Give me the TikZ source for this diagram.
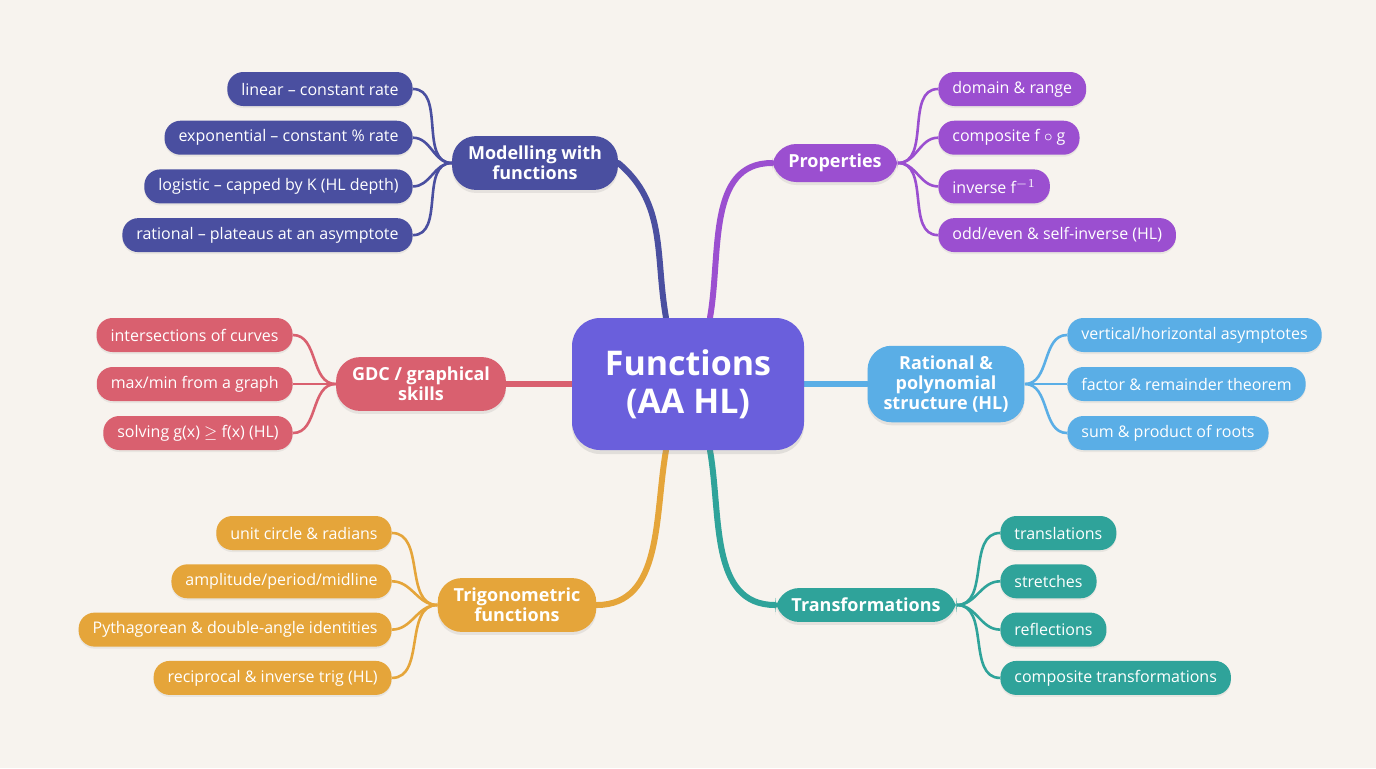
\documentclass[tikz,border=0pt]{standalone}
\usepackage{fontspec}
\setmainfont{Open Sans}
\usetikzlibrary{positioning, shadows}

\definecolor{bgcol}{HTML}{F7F3EE}
\definecolor{maincol}{HTML}{6A5FDC}
\definecolor{modcol}{HTML}{4A4FA0}
\definecolor{propcol}{HTML}{9B4FD0}
\definecolor{gdccol}{HTML}{D9606F}
\definecolor{ratcol}{HTML}{5AAEE6}
\definecolor{trigcol}{HTML}{E5A53A}
\definecolor{transcol}{HTML}{2FA39A}

\pgfdeclarelayer{back}
\pgfdeclarelayer{lines}
\pgfsetlayers{back,lines,main}

\tikzset{
  leaf/.style={fill=#1, text=white, rounded corners=8pt, minimum height=17pt,
    inner xsep=7pt, font=\fontsize{8}{9}\selectfont,
    drop shadow={opacity=0.12, shadow xshift=0pt, shadow yshift=-1pt}},
  topic/.style={fill=#1, text=white, rounded corners=12pt, align=center,
    inner xsep=8pt, inner ysep=5pt, font=\fontsize{9}{10}\selectfont\bfseries,
    drop shadow={opacity=0.15, shadow xshift=0pt, shadow yshift=-1.5pt}},
  branch/.style={draw=#1, line width=3pt, line cap=round},
  twig/.style={draw=#1, line width=1.3pt},
}

\begin{document}
\begin{tikzpicture}[x=0.5pt, y=-0.5pt]
\begin{pgfonlayer}{back}
\fill[bgcol] (0,0) rectangle (1376,768);
\end{pgfonlayer}
\useasboundingbox (0,0) rectangle (1376,768);

% centre
\node[fill=maincol, text=white, rounded corners=14pt, minimum width=116pt,
  minimum height=66pt, align=center, font=\fontsize{17}{19}\selectfont\bfseries,
  drop shadow={opacity=0.18, shadow xshift=0pt, shadow yshift=-2pt}]
  (main) at (688,384) {Functions\\(AA HL)};

% topics
\node[topic=modcol] (mod) at (535,163) {Modelling with\\functions};
\node[topic=propcol] (prop) at (835,163) {Properties};
\node[topic=gdccol] (gdc) at (421,384) {GDC / graphical\\skills};
\node[topic=ratcol] (rat) at (946,384) {Rational \&\\polynomial\\structure (HL)};
\node[topic=trigcol] (trig) at (517,605) {Trigonometric\\functions};
\node[topic=transcol] (trans) at (866,605) {Transformations};

% branches
\begin{pgfonlayer}{lines}
\draw[branch=modcol] ([xshift=-11pt]main.north) to[out=100,in=-40] (mod.east);
\draw[branch=propcol] ([xshift=11pt]main.north) to[out=80,in=180] (prop.west);
\draw[branch=gdccol] (main.west) -- (gdc.east);
\draw[branch=ratcol] (main.east) -- (rat.west);
\draw[branch=trigcol] ([xshift=-11pt]main.south) to[out=-100,in=0] (trig.east);
\draw[branch=transcol] ([xshift=11pt]main.south) to[out=-80,in=180] (trans.west);
\end{pgfonlayer}

% Modelling leaves
\foreach \t [count=\i] in {linear -- constant rate, exponential -- constant \% rate,
  logistic -- capped by K (HL depth), rational -- plateaus at an asymptote} {
  \pgfmathsetmacro\yy{89+48.7*(\i-1)}
  \node[leaf=modcol, anchor=east] (mod\i) at (413,\yy) {\t};
  \begin{pgfonlayer}{lines}
  \draw[twig=modcol] (mod.west) to[out=180,in=0] (mod\i.east);
  \end{pgfonlayer}
}

% Properties leaves
\foreach \t [count=\i] in {domain \& range, composite f $\circ$ g, inverse f$^{-1}$,
  odd/even \& self-inverse (HL)} {
  \pgfmathsetmacro\yy{89+48.7*(\i-1)}
  \node[leaf=propcol, anchor=west] (prop\i) at (938,\yy) {\t};
  \begin{pgfonlayer}{lines}
  \draw[twig=propcol] (prop.east) to[out=0,in=180] (prop\i.west);
  \end{pgfonlayer}
}

% GDC leaves
\foreach \t [count=\i] in {intersections of curves, max/min from a graph,
  solving g(x) $\geq$ f(x) (HL)} {
  \pgfmathsetmacro\yy{335+49*(\i-1)}
  \node[leaf=gdccol, anchor=east] (gdc\i) at (293,\yy) {\t};
  \begin{pgfonlayer}{lines}
  \draw[twig=gdccol] (gdc.west) to[out=180,in=0] (gdc\i.east);
  \end{pgfonlayer}
}

% Rational leaves
\foreach \t [count=\i] in {vertical/horizontal asymptotes, factor \& remainder theorem,
  sum \& product of roots} {
  \pgfmathsetmacro\yy{335+49*(\i-1)}
  \node[leaf=ratcol, anchor=west] (rat\i) at (1067,\yy) {\t};
  \begin{pgfonlayer}{lines}
  \draw[twig=ratcol] (rat.east) to[out=0,in=180] (rat\i.west);
  \end{pgfonlayer}
}

% Trig leaves
\foreach \t [count=\i] in {unit circle \& radians, amplitude/period/midline,
  Pythagorean \& double-angle identities, reciprocal \& inverse trig (HL)} {
  \pgfmathsetmacro\yy{533+48.3*(\i-1)}
  \node[leaf=trigcol, anchor=east] (trig\i) at (392,\yy) {\t};
  \begin{pgfonlayer}{lines}
  \draw[twig=trigcol] (trig.west) to[out=180,in=0] (trig\i.east);
  \end{pgfonlayer}
}

% Transformation leaves
\foreach \t [count=\i] in {translations, stretches, reflections, composite transformations} {
  \pgfmathsetmacro\yy{533+48.3*(\i-1)}
  \node[leaf=transcol, anchor=west] (trans\i) at (1000,\yy) {\t};
  \begin{pgfonlayer}{lines}
  \draw[twig=transcol] (trans.east) to[out=0,in=180] (trans\i.west);
  \end{pgfonlayer}
}
\end{tikzpicture}
\end{document}
